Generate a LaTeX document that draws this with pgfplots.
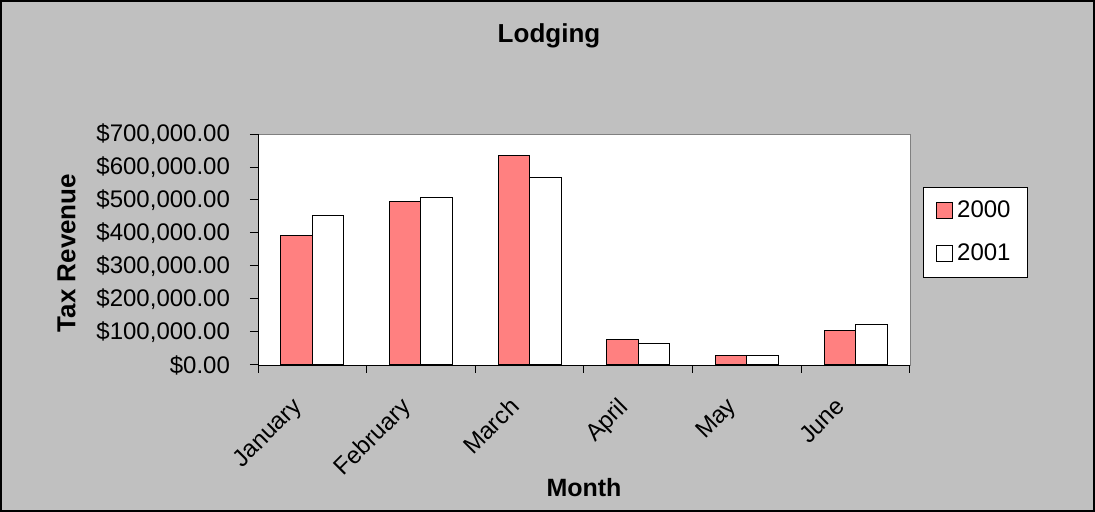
\documentclass[border=0pt]{standalone}
\usepackage{fontspec}
\setmainfont{Liberation Sans}
\usepackage{pgfplots}
\pgfplotsset{compat=1.18}
\definecolor{bggray}{RGB}{192,192,192}
\definecolor{pink2000}{RGB}{255,128,128}
\definecolor{framegray}{RGB}{128,128,128}

\begin{document}
\begin{tikzpicture}
% chart area (gray with black frame)
\fill[bggray] (-129pt,-73.5pt) rectangle (418.5pt,182.5pt);
\draw[black, line width=1pt] (-128.5pt,-73pt) rectangle (418pt,182pt);
\useasboundingbox (-129pt,-73.5pt) rectangle (418.5pt,182.5pt);

\begin{axis}[
    at={(0pt,0pt)}, anchor=south west,
    scale only axis, width=326pt, height=115.5pt,
    ybar=0pt, bar width=15.75pt,
    xmin=-0.5, xmax=5.5, ymin=0, ymax=700000,
    xtick={0,...,5},
    xticklabels={January,February,March,April,May,June},
    major x tick style={draw=none},
    minor xtick={-0.5,0.5,...,5.5},
    ytick={0,100000,...,700000},
    yticklabels={{\$0.00},{\$100,000.00},{\$200,000.00},{\$300,000.00},{\$400,000.00},{\$500,000.00},{\$600,000.00},{\$700,000.00}},
    scaled y ticks=false,
    tick align=outside, major tick length=4pt, minor tick length=4pt,
    axis x line*=bottom, axis y line*=left,
    axis line style={black,-},
    axis background/.style={fill=white, draw=framegray},
    tick style={black, line width=0.5pt},
    every tick label/.append style={font=\fontsize{12}{14}\selectfont},
    yticklabel style={xshift=-6.5pt},
    xticklabel style={rotate=45, anchor=north east, inner sep=1pt, xshift=-14.6pt, yshift=0.6pt},
    legend style={at={(axis description cs:1,1)}, anchor=north west,
      xshift=6.5pt, yshift=-26.5pt, draw=black, fill=white,
      font=\fontsize{12}{14}\selectfont, row sep=7.5pt,
      inner xsep=6.5pt, inner ysep=4.75pt},
    legend cell align=left,
    legend image code/.code={\draw[#1, draw=black, line width=0.4pt] (0pt,-4pt) rectangle (8pt,4pt);},
  ]
  \addplot[fill=pink2000, draw=black, line width=0.5pt] coordinates {
    (0,392000) (1,494000) (2,634000) (3,76000) (4,28000) (5,106000)
  };
  \addlegendentry{2000}
  \addplot[fill=white, draw=black, line width=0.5pt] coordinates {
    (0,453000) (1,507000) (2,568000) (3,64000) (4,28000) (5,124000)
  };
  \addlegendentry{2001}
\end{axis}

\node[font=\fontsize{13}{15}\selectfont\bfseries] at (145.5pt,164.5pt) {Lodging};
\node[font=\fontsize{13}{15}\selectfont\bfseries, rotate=90] at (-95.7pt,56pt) {Tax Revenue};
\node[font=\fontsize{12.5}{15}\selectfont\bfseries] at (163pt,-61.5pt) {Month};
\end{tikzpicture}
\end{document}
